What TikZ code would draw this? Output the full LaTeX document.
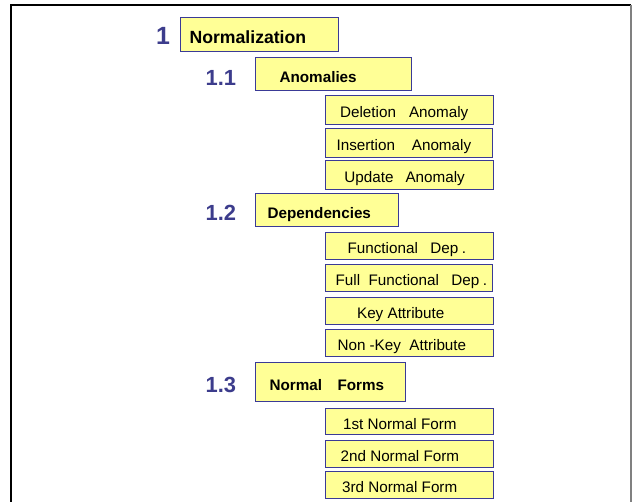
\documentclass[tikz,border=0pt]{standalone}
\usepackage{fontspec}
\setmainfont{Liberation Sans}

\definecolor{boxyellow}{RGB}{255,255,150}
\definecolor{boxblue}{RGB}{58,58,150}
\definecolor{numblue}{RGB}{60,60,140}

% box text: fixed-width line with a left indent (width, indent, text)
\newcommand{\padtext}[3]{\makebox[#1bp][l]{\hspace*{#2bp}#3}}

\tikzset{
  boxbase/.style={draw=boxblue, fill=boxyellow, line width=1.2bp,
    inner sep=0pt, anchor=north west, text depth=0pt},
  headbox/.style={boxbase, font=\bfseries\fontsize{17.7}{20}\selectfont, text height=18.7bp},
  topicbox/.style={boxbase, font=\bfseries\fontsize{15.3}{18}\selectfont, text height=16.3bp},
  itembox/.style={boxbase, font=\fontsize{15.3}{18}\selectfont, text height=15.5bp},
  numlabel/.style={text=numblue, inner sep=0pt, anchor=base west,
    font=\bfseries\fontsize{22}{26}\selectfont},
  framefront/.style={black, line width=1.5bp},
  frameside/.style={gray, line width=2bp}
}

\begin{document}
\begin{tikzpicture}[x=1bp, y=-1bp]
\useasboundingbox (0,0) rectangle (634,502);

% page frame
\draw[framefront] (11,502) -- (11,5) -- (631,5);
\draw[frameside] (631,5) -- (631,502);

% chapter
\node[numlabel, font=\bfseries\fontsize{25}{28}\selectfont] (n1) at (156,45) {1};
\node[headbox, minimum width=158bp, minimum height=34bp] (norm) at (180,17)
  {\padtext{158}{9}{Normalization}};

% 1.1 anomalies
\node[numlabel] (n11) at (205.5,86) {1.1};
\node[topicbox, minimum width=156bp, minimum height=33bp] (anom) at (255,57)
  {\padtext{156}{24}{Anomalies}};
\node[itembox, minimum width=168bp, minimum height=29bp] (del) at (325,95)
  {\padtext{168}{14.5}{Deletion\hspace{13bp}Anomaly}};
\node[itembox, minimum width=167bp, minimum height=29bp] (ins) at (325,128)
  {\padtext{167}{11}{Insertion\hspace{16.8bp}Anomaly}};
\node[itembox, minimum width=168bp, minimum height=29bp] (upd) at (325,160)
  {\padtext{168}{18.8}{Update\hspace{12bp}Anomaly}};

% 1.2 dependencies
\node[numlabel] (n12) at (205.5,220.7) {1.2};
\node[topicbox, minimum width=143bp, minimum height=33bp] (dep) at (255,193)
  {\padtext{143}{12}{Dependencies}};
\node[itembox, minimum width=168bp, minimum height=27bp] (fd) at (325,232)
  {\padtext{168}{22}{Functional\hspace{12.5bp}Dep\hspace{3.5bp}.}};
\node[itembox, minimum width=167bp, minimum height=27bp] (ffd) at (325,264)
  {\padtext{167}{10}{Full\hspace{8.5bp}Functional\hspace{12.5bp}Dep\hspace{3.5bp}.}};
\node[itembox, minimum width=168bp, minimum height=27bp] (key) at (325,297)
  {\padtext{168}{31.5}{Key Attribute}};
\node[itembox, minimum width=168bp, minimum height=27bp] (nonkey) at (325,329)
  {\padtext{168}{12}{Non\hspace{4bp}-Key\hspace{8.5bp}Attribute}};

% 1.3 normal forms
\node[numlabel] (n13) at (205.5,392.3) {1.3};
\node[topicbox, minimum width=150bp, minimum height=39bp, text height=17bp] (nf) at (255,362)
  {\padtext{150}{14}{Normal\hspace{15.5bp}Forms}};
\node[itembox, minimum width=168bp, minimum height=26bp] (nf1) at (325,408)
  {\padtext{168}{17.5}{1st Normal Form}};
\node[itembox, minimum width=168bp, minimum height=27bp] (nf2) at (325,440)
  {\padtext{168}{15}{2nd Normal Form}};
\node[itembox, minimum width=168bp, minimum height=27bp] (nf3) at (325,471)
  {\padtext{168}{16.5}{3rd Normal Form}};
\end{tikzpicture}
\end{document}
